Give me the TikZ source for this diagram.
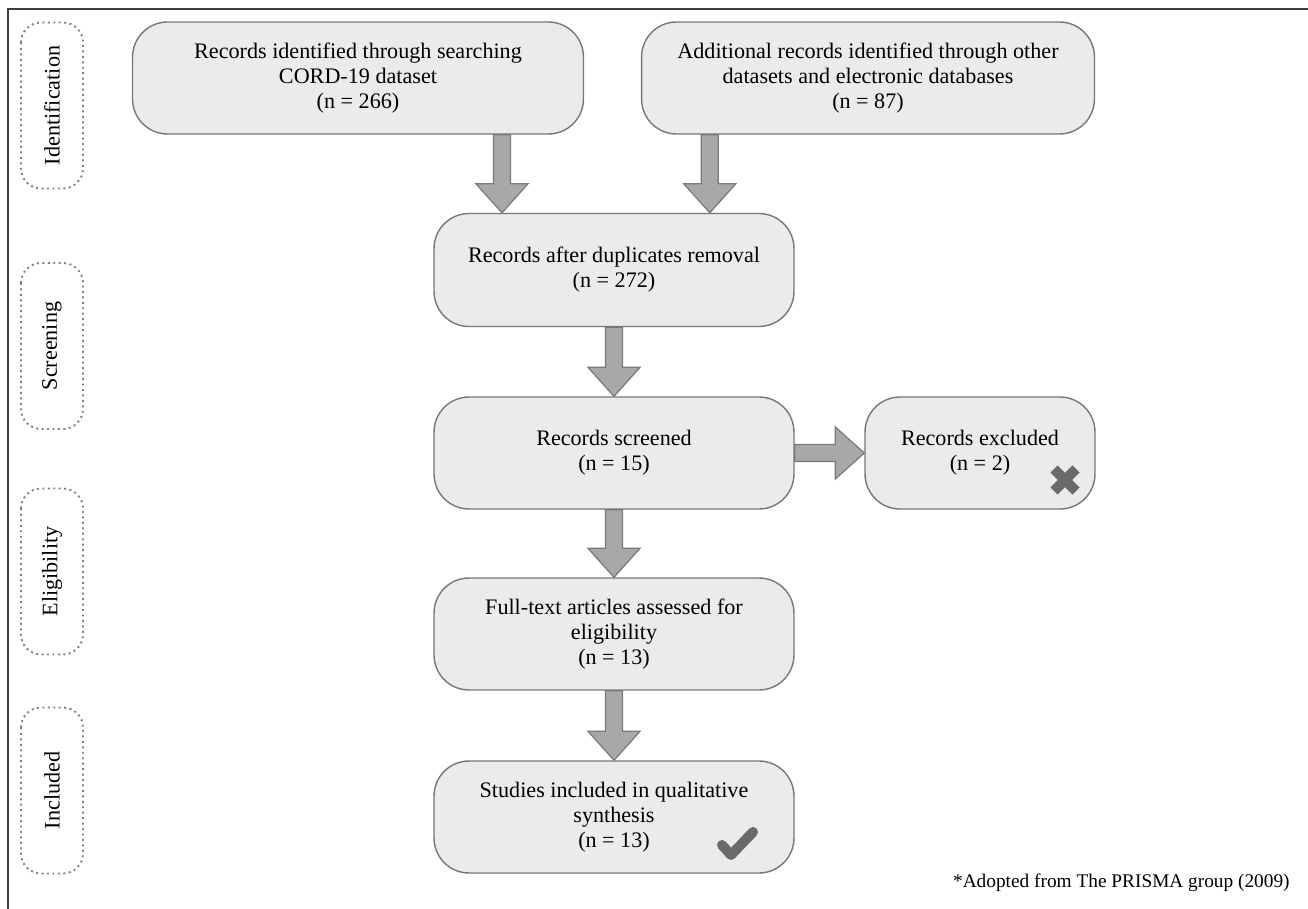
\documentclass[tikz,border=0pt]{standalone}
\usepackage{fontspec}
\setmainfont{Liberation Serif}
\usetikzlibrary{calc}
\usetikzlibrary{positioning}

\definecolor{boxfill}{HTML}{EBEBEB}
\definecolor{boxline}{HTML}{777777}
\definecolor{arrfill}{HTML}{AAA7A7}
\definecolor{arrline}{HTML}{7B7878}
\definecolor{markgray}{HTML}{6B6969}

\tikzset{
  stage/.style={draw=boxline, fill=boxfill, line width=0.8pt, rounded corners=0.7cm,
    align=center, inner sep=0pt, font=\fontsize{12.6}{14.2}\selectfont,
    execute at begin node={\rule{0pt}{14.5pt}}},
  phase/.style={draw=gray, dotted, line width=1.1pt, rounded corners=0.4cm, rotate=90,
    minimum width=3.32cm, minimum height=1.24cm, inner sep=0pt,
    font=\fontsize{12.6}{14.2}\selectfont},
  fatarrow/.style={draw=arrline, fill=arrfill, line width=0.7pt, line join=miter},
  tickmark/.style={draw=markgray, line width=0.2cm, line cap=round, line join=round}
}

% block arrow from #1 to #2
\newcommand{\blockarr}[2]{%
  \coordinate (ba) at (#1);
  \coordinate (bb) at (#2);
  \coordinate (bh) at ($(bb)!0.58cm!(ba)$);
  \path[fatarrow] ($(ba)!0.17cm!90:(bb)$) -- ($(bh)!0.17cm!90:(bb)$) -- ($(bh)!0.52cm!90:(bb)$)
    -- (bb) -- ($(bh)!0.52cm!-90:(bb)$) -- ($(bh)!0.17cm!-90:(bb)$) -- ($(ba)!0.17cm!-90:(bb)$) -- cycle;}

\begin{document}
\begin{tikzpicture}[x=0.02cm, y=-0.02cm]
 \useasboundingbox (0,0) rectangle (1308,909);

 \draw[line width=0.9pt, black!75] (8,909) -- (8,9) -- (1308,9);

 % phases
 \foreach \y/\name/\n in {105.5/Identification/ph1, 346/Screening/ph2, 571.5/Eligibility/ph3, 790.5/Included/ph4}
   \node[phase] (\n) at (52,\y) {\name};

 % boxes
 \node[stage, minimum width=9.02cm, minimum height=2.24cm] (ident) at (358,78)
   {Records identified through searching\\CORD-19 dataset\\(n = 266)};
 \node[stage, minimum width=9.06cm, minimum height=2.24cm] (extra) at (868,78)
   {Additional records identified through other\\datasets and electronic databases\\(n = 87)};
 \node[stage, minimum width=7.2cm, minimum height=2.26cm] (dedup) at (614,270)
   {Records after duplicates removal\\(n = 272)};
 \node[stage, minimum width=7.2cm, minimum height=2.24cm] (screen) at (614,453)
   {Records screened\\(n = 15)};
 \node[stage, minimum width=4.6cm, minimum height=2.24cm] (excl) at (980,453)
   {Records excluded\\(n = 2)};
 \node[stage, minimum width=7.2cm, minimum height=2.24cm] (fulltext) at (614,634)
   {Full-text articles assessed for\\eligibility\\(n = 13)};
 \node[stage, minimum width=7.2cm, minimum height=2.24cm] (incl) at (614,817)
   {Studies included in qualitative\\synthesis\\(n = 13)};

 % arrows
 \coordinate (ca) at ($(dedup.north west)!0.19!(dedup.north east)$);
 \coordinate (cb) at ($(dedup.north west)!0.765!(dedup.north east)$);
 \blockarr{ident.south -| ca}{ca}
 \blockarr{extra.south -| cb}{cb}
 \foreach \s/\t in {dedup/screen, screen/fulltext, fulltext/incl}
   \blockarr{\s.south}{\t.north};
 \blockarr{screen.east}{excl.west}

 % marks
 \draw[tickmark] (722,845) -- (731,855) -- (753,832);
 \draw[tickmark, line cap=butt] (1054,469) -- (1076,491) (1054,491) -- (1076,469);

 \node[anchor=east, inner sep=0pt, font=\fontsize{11}{13}\selectfont] (note) at (1290,883)
   {*Adopted from The PRISMA group (2009)};
\end{tikzpicture}
\end{document}
